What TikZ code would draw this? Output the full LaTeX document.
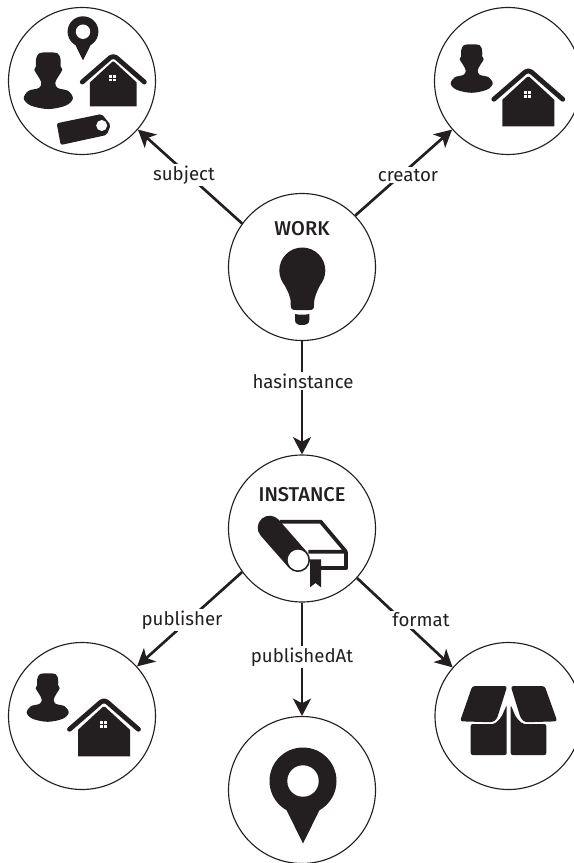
\documentclass[tikz,border=0pt]{standalone}
\usepackage{fontspec}
\setmainfont{Fira Sans}
\newfontfamily\namefont{Fira Sans Medium}
\usetikzlibrary{arrows.meta}
\definecolor{iconblack}{HTML}{231F20}
\tikzset{
    entity/.style={draw=iconblack, line width=0.85pt, circle, minimum size=110.25pt, inner sep=0pt},
    link/.style={draw=iconblack, line width=2pt, -{Stealth[length=13pt, width=13.5pt, inset=3.5pt]}},
    linklabel/.style={fill=white, text=iconblack, font=\fontsize{14}{16}\selectfont, inner sep=1.5pt},
    entityname/.style={text=iconblack, font=\fontsize{15}{17}\namefont, inner sep=0pt},
    personicon/.pic={
        \fill[iconblack] plot[smooth cycle, tension=0.55] coordinates {(0, 0) (8, 1) (10.5, 6) (10.5, 12) (12, 15) (9, 20) (6, 26) (8, 30.5) (17, 33) (21, 39.5) (15, 45.5) (0, 48.5) (-15, 45.5) (-21, 39.5) (-17, 33) (-8, 30.5) (-6, 26) (-9, 20) (-12, 15) (-10.5, 12) (-10.5, 6) (-8, 1)};
    },
    houseicon/.pic={
        \draw[iconblack, line width=3.6pt, line cap=round, line join=round, rounded corners=3pt] (-34.5, 30) -- (0, 0) -- (34.5, 30);
        \fill[iconblack] (-26, 57) -- (-26, 30.5) -- (-1, 7.5) -- (1, 7.5) -- (26, 30.5) -- (26, 57) -- cycle;
        \fill[white] (-4.5, 22) rectangle (2.5, 29);
        \draw[iconblack, line width=0.6pt] (-1, 22) -- (-1, 29);
        \draw[iconblack, line width=0.6pt] (-4.5, 25.5) -- (2.5, 25.5);
    },
    pinicon/.pic={
        \fill[iconblack] (0, 0) circle (33.5);
        \fill[iconblack] (-16.5, 29) -- (0, 62.5) -- (16.5, 29) -- cycle;
        \fill[white] (0, 0) circle (15.7);
    },
}
\begin{document}
\begin{tikzpicture}[x=0.75pt, y=-0.75pt]
    \useasboundingbox (0, 0) rectangle (574, 863);
    % circles
    \node[entity] (subject) at (82, 81) {};
    \node[entity] (creator) at (508, 81) {};
    \node[entity] (work) at (302, 267) {};
    \node[entity] (instance) at (302, 528.5) {};
    \node[entity] (publisher) at (82, 716) {};
    \node[entity] (format) at (508.5, 716) {};
    \node[entity] (place) at (302, 790) {};
    % links
    \draw[link] (work.144) -- (subject.-41);
    \draw[link] (work.44) -- (creator.221);
    \draw[link] (work.south) -- (instance.north);
    \draw[link] (instance.216) -- (publisher.42);
    \draw[link] (instance.south) -- (place.north);
    \draw[link] (instance.-42) -- (format.139);
    % link labels
    \node[linklabel] (subjectlabel) at (184, 175) {subject};
    \node[linklabel] (creatorlabel) at (408, 175) {creator};
    \node[linklabel] (hasinstancelabel) at (303, 381) {hasinstance};
    \node[linklabel] (publisherlabel) at (182, 620) {publisher};
    \node[linklabel] (placelabel) at (302, 657) {publishedAt};
    \node[linklabel] (formatlabel) at (421, 620) {format};
    % names
    \node[entityname] (workname) at (302, 229) {WORK};
    \node[entityname] (instancename) at (302, 495) {INSTANCE};
    % subject icons
    \pic[scale=0.46] at (83, 31.7) {pinicon};
    \pic[scale=1.17] at (48.3, 52.3) {personicon};
    \pic[scale=0.9] at (113.3, 55) {houseicon};
    \fill[iconblack, rounded corners=1.5] (56.7, 123.3) -- (101.7, 114) -- (110.7, 125) -- (106.7, 135) -- (60.7, 145) -- cycle;
    \fill[white] (101.7, 125.5) circle (5.5);
    % creator icons
    \pic at (471.7, 44.3) {personicon};
    \pic at (528.3, 69.3) {houseicon};
    % bulb
    \fill[iconblack] (302.3, 270.5) circle (23);
    \fill[iconblack] (283, 282) .. controls (288, 292) and (291, 296) .. (290.7, 305) .. controls (290.7, 309) and (292, 310) .. (296, 310) -- (309, 310) .. controls (313, 310) and (314, 309) .. (314, 305) .. controls (314, 296) and (317, 292) .. (321.5, 282) -- cycle;
    \fill[iconblack] (295, 314) .. controls (299, 315) and (305, 315) .. (309.3, 314) -- (309.3, 320) .. controls (309.3, 324) and (306, 325) .. (302, 325) .. controls (298, 325) and (295, 324) .. (295, 320) -- cycle;
    % book
    \draw[iconblack, line width=2.8pt, line join=round] (280, 521.7) -- (320.7, 521.7) -- (346, 551.7) -- (308.3, 551.7);
    \draw[iconblack, line width=2.8pt, line join=round] (346, 551.7) -- (346, 568.3) -- (311, 568.3);
    \draw[iconblack, line width=18pt, line cap=round] (269.7, 527.7) -- (298, 560);
    \fill[white] (298, 560) circle (10.3);
    \fill[iconblack] (310, 559.3) -- (321, 559.3) -- (321, 587.3) -- (315.5, 583) -- (310, 587.3) -- cycle;
    % publisher icons
    \pic at (47.7, 673.3) {personicon};
    \pic at (104, 699.3) {houseicon};
    % box
    \fill[iconblack, rounded corners=2] (472.3, 686) -- (507.3, 686) -- (496.7, 719.3) -- (492.3, 722.3) -- (460, 721.3) -- cycle;
    \fill[iconblack, rounded corners=2] (510.7, 686) -- (544.7, 686) -- (557.3, 721.3) -- (525, 722.3) -- (520.7, 718.3) -- cycle;
    \fill[iconblack, rounded corners=1.5] (470.7, 724) -- (494.7, 724) -- (501.3, 717.3) -- (506.7, 705) -- (506.7, 755) -- (470.7, 755) -- cycle;
    \fill[iconblack, rounded corners=1.5] (510.7, 705) -- (516, 717.3) -- (522.7, 724) -- (546.3, 724) -- (546.3, 755) -- (510.7, 755) -- cycle;
    % pin
    \pic at (303, 781) {pinicon};
\end{tikzpicture}
\end{document}
